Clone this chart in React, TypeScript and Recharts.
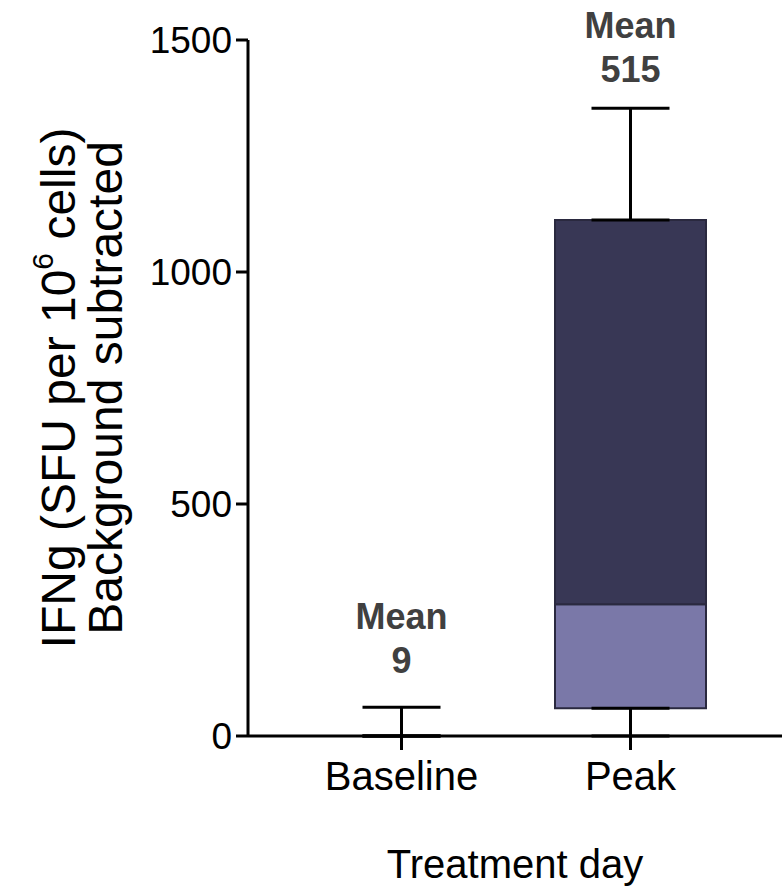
import { ComposedChart, Bar, Scatter, ErrorBar, XAxis, YAxis, LabelList } from 'recharts';

const categories = ['Baseline', 'Peak'];
const minValues = [0, 0];
const q1Values = [0, 60];
const medianValues = [0, 284];
const q3Values = [0, 1112];
const maxValues = [62, 1353];
const meanValues = [9, 515];
const yTicks = [0, 500, 1000, 1500];

const data = categories.map((name, i) => ({
  name,
  base: q1Values[i],
  lower: medianValues[i] - q1Values[i],
  upper: q3Values[i] - medianValues[i],
  q1: q1Values[i],
  q3: q3Values[i],
  max: maxValues[i],
  mean: meanValues[i],
  lowErr: [q1Values[i] - minValues[i], 0],
  highErr: [0, maxValues[i] - q3Values[i]],
}));

const FONT = '"Liberation Sans", Arial, sans-serif';
const meanOffsets = [-91, -83];

function YLabel(props: any) {
  const vb = props.viewBox || {};
  const cy = (vb.y ?? 40) + (vb.height ?? 696) / 2;
  return (
    <g fontFamily={FONT} fontSize={48} fill="#000">
      <text x={58} y={cy} textAnchor="middle" dominantBaseline="central" transform={`rotate(-90, 58, ${cy})`}>
        IFNg (SFU per 10<tspan dy={-16} fontSize={30}>6</tspan>
        <tspan dy={16}> cells)</tspan>
      </text>
      <text x={105} y={cy} textAnchor="middle" dominantBaseline="central" transform={`rotate(-90, 105, ${cy})`}>
        Background subtracted
      </text>
    </g>
  );
}

function MeanLabel(props: any) {
  const { x, y, width, height, value, index } = props;
  const cx = x + (width || 0) / 2;
  const cy = y + (height || 0) / 2;
  const off = meanOffsets[index] ?? -87;
  return (
    <g fontFamily={FONT} fontSize={36} fontWeight="bold" fill="#404040" textAnchor="middle">
      <text x={cx} y={cy + off} dominantBaseline="central">Mean</text>
      <text x={cx} y={cy + off + 44} dominantBaseline="central">{value}</text>
    </g>
  );
}

export default function App() {
  return (
    <div style={{ position: 'absolute', left: 0, top: 0, background: '#fff' }}>
      <ComposedChart width={782} height={887} data={data} margin={{ top: 40, right: 0, left: 0, bottom: 0 }}>
        <XAxis
          dataKey="name"
          padding={{ left: 39, right: 37 }}
          height={151}
          tickSize={14}
          tickMargin={12}
          tick={{ fontSize: 40, fill: '#000', fontFamily: FONT }}
          axisLine={{ stroke: '#000', strokeWidth: 3 }}
          tickLine={{ stroke: '#000', strokeWidth: 3 }}
          label={{ value: 'Treatment day', position: 'insideBottom', offset: 9, fontSize: 40, fill: '#000', fontFamily: FONT }}
        />
        <YAxis
          domain={[0, 1500]}
          ticks={yTicks}
          width={248}
          tickSize={12}
          tickMargin={4}
          tick={{ fontSize: 37, fill: '#000', fontFamily: FONT }}
          axisLine={{ stroke: '#000', strokeWidth: 3 }}
          tickLine={{ stroke: '#000', strokeWidth: 3 }}
          label={{ content: YLabel }}
        />
        <Bar dataKey="base" stackId="box" fill="transparent" barSize={151} isAnimationActive={false} />
        <Bar dataKey="lower" stackId="box" fill="#7a78a8" stroke="#2a293f" strokeWidth={2} barSize={151} isAnimationActive={false} />
        <Bar dataKey="upper" stackId="box" fill="#383755" stroke="#2a293f" strokeWidth={2} barSize={151} isAnimationActive={false} />
        <Scatter dataKey="q3" shape={() => <g />} isAnimationActive={false}>
          <ErrorBar dataKey="highErr" direction="y" width={39} stroke="#000" strokeWidth={3} />
        </Scatter>
        <Scatter dataKey="q1" shape={() => <g />} isAnimationActive={false}>
          <ErrorBar dataKey="lowErr" direction="y" width={39} stroke="#000" strokeWidth={3} />
        </Scatter>
        <Scatter dataKey="max" shape={() => <g />} isAnimationActive={false}>
          <LabelList dataKey="mean" content={MeanLabel} />
        </Scatter>
      </ComposedChart>
    </div>
  );
}
